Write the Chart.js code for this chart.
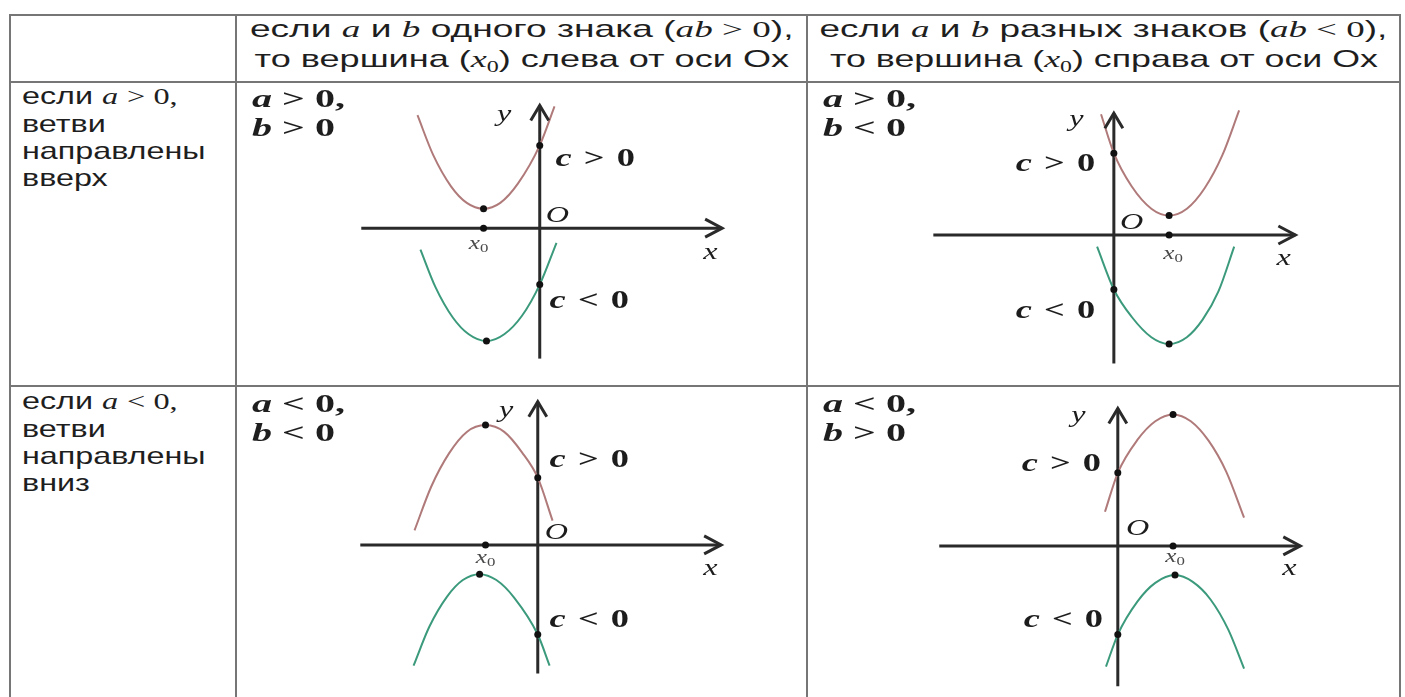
<!DOCTYPE html>
<html>
<head>
<meta charset="utf-8">
<script src="https://cdn.jsdelivr.net/npm/chart.js@4.4.1/dist/chart.umd.min.js"></script>
<style>
  body { margin: 0; background: #fff; width: 1405px; height: 697px; overflow: hidden; position: relative;
         font-family: "Liberation Sans", Arial, sans-serif; color: #1e1e1e; }
  .ln { position: absolute; background: #767676; }
  canvas { position: absolute; }
  .hdr { position: absolute; text-align: center; font-size: 24px; line-height: 29px; white-space: nowrap; }
  .hdr span.fit { display: inline-block; transform-origin: 50% 50%; }
  .side { position: absolute; left: 22px; font-size: 24px; line-height: 27px; white-space: nowrap;
          width: max-content; transform-origin: 0 50%; }
  .cond { position: absolute; font-family: "Liberation Serif", serif; font-weight: bold; font-size: 25px;
          line-height: 29px; white-space: nowrap; width: max-content; transform-origin: 0 50%; }
  .m { font-family: "Liberation Serif", serif; }
  .i { font-style: italic; }
  .sub { font-size: 16px; position: relative; top: 5px; }
</style>
</head>
<body>

<!-- table rules -->
<div class="ln" style="left:9px;top:14px;width:1392px;height:2px"></div>
<div class="ln" style="left:9px;top:81px;width:1392px;height:2px"></div>
<div class="ln" style="left:9px;top:385px;width:1392px;height:2px"></div>
<div class="ln" style="left:9px;top:14px;width:2px;height:683px"></div>
<div class="ln" style="left:235px;top:14px;width:2px;height:683px"></div>
<div class="ln" style="left:806px;top:14px;width:2px;height:683px"></div>
<div class="ln" style="left:1399px;top:14px;width:2px;height:683px"></div>

<canvas id="tl" width="569" height="302" style="left:237px;top:83px"></canvas>
<canvas id="tr" width="591" height="302" style="left:808px;top:83px"></canvas>
<canvas id="bl" width="569" height="310" style="left:237px;top:387px"></canvas>
<canvas id="br" width="591" height="310" style="left:808px;top:387px"></canvas>

<div class="hdr" style="left:237px;width:569px;top:14px">
  <div><span class="fit" data-w="543">если <span class="m i">a</span> и <span class="m i">b</span> одного знака (<span class="m"><i>ab</i> &gt; 0</span>),</span></div>
  <div><span class="fit" data-w="535">то вершина (<span class="m i">x</span><span class="m sub">0</span>) слева от оси Ox</span></div>
</div>
<div class="hdr" style="left:808px;width:591px;top:14px">
  <div><span class="fit" data-w="568">если <span class="m i">a</span> и <span class="m i">b</span> разных знаков (<span class="m"><i>ab</i> &lt; 0</span>),</span></div>
  <div><span class="fit" data-w="548">то вершина (<span class="m i">x</span><span class="m sub">0</span>) справа от оси Ox</span></div>
</div>

<div class="side" data-w="183" style="top:82px">если <span class="m i">a</span> <span class="m">&gt; 0,</span><br>ветви<br>направлены<br>вверх</div>
<div class="side" data-w="183" style="top:387px">если <span class="m i">a</span> <span class="m">&lt; 0,</span><br>ветви<br>направлены<br>вниз</div>

<div class="cond" data-w="93" style="left:252px;top:84px"><i>a</i> &gt; 0,<br><i>b</i> &gt; 0</div>
<div class="cond" data-w="93" style="left:823px;top:84px"><i>a</i> &gt; 0,<br><i>b</i> &lt; 0</div>
<div class="cond" data-w="93" style="left:252px;top:389px"><i>a</i> &lt; 0,<br><i>b</i> &lt; 0</div>
<div class="cond" data-w="93" style="left:823px;top:389px"><i>a</i> &lt; 0,<br><i>b</i> &gt; 0</div>

<script>
// curves, [x, y] in axis units
const tlRed   = [[-6.2, 5.8], [-5.4, 3.75], [-4.5, 2.15], [-3.7, 1.3], [-2.85, 1.0], [-2.0, 1.3], [-1.1, 2.3], [0, 4.25], [0.75, 6.25]];
const tlGreen = [[-6.05, -1.1], [-5.3, -3.0], [-4.4, -4.6], [-3.6, -5.45], [-2.7, -5.8], [-1.8, -5.45], [-0.9, -4.5], [0, -2.9], [0.85, -0.75]];
const trRed   = [[-0.65, 6.2], [0, 4.2], [0.9, 2.5], [1.9, 1.35], [2.8, 1.0], [3.7, 1.35], [4.6, 2.4], [5.5, 4.1], [6.35, 6.4]];
const trGreen = [[-0.85, -0.6], [0, -2.8], [0.9, -4.2], [1.9, -5.25], [2.8, -5.6], [3.7, -5.25], [4.5, -4.35], [5.3, -2.9], [6.1, -0.6]];
const blRed   = [[-6.25, 0.75], [-5.4, 3.0], [-4.5, 4.7], [-3.6, 5.8], [-2.65, 6.15], [-1.7, 5.8], [-0.8, 4.75], [0, 3.45], [0.75, 1.25]];
const blGreen = [[-6.3, -6.2], [-5.5, -4.2], [-4.6, -2.65], [-3.8, -1.8], [-2.95, -1.5], [-2.1, -1.8], [-1.2, -2.7], [0, -4.6], [0.6, -6.2]];
const brRed   = [[-0.65, 1.75], [0, 3.75], [1.0, 5.45], [1.9, 6.4], [2.8, 6.75], [3.7, 6.4], [4.6, 5.4], [5.5, 3.8], [6.4, 1.45]];
const brGreen = [[-0.6, -6.2], [0, -4.55], [1.0, -2.85], [1.9, -1.9], [2.9, -1.5], [3.8, -1.85], [4.7, -2.75], [5.6, -4.3], [6.4, -6.3]];

// axis extents [from, to]
const tlXAxis = [-9.05, 9.25], tlYAxis = [-6.7, 6.3];
const trXAxis = [-9.15, 9.2],  trYAxis = [-6.6, 6.25];
const blXAxis = [-9.0, 9.3],   blYAxis = [-6.6, 7.35];
const brXAxis = [-9.05, 9.25], brYAxis = [-7.2, 7.05];

const U = 20;      // px per unit
const SX = 1.4;    // the lettering in the picture is stretched sideways
const RED = '#b07a7a', GREEN = '#3c9a7c', INK = '#1c1c1c';
const SERIF = '"Liberation Serif", serif';

// stretch html text to the widths seen in the picture
document.querySelectorAll('[data-w]').forEach(el => {
  el.style.transform = 'scaleX(' + (el.dataset.w / el.offsetWidth) + ')';
});

function cLabel(sign) {
  return [['c', 'italic bold 26px ' + SERIF], [' \u200a' + sign + '\u200a 0', 'bold 26px ' + SERIF]];
}
const letter = t => [[t, 'italic 23px ' + SERIF]];
const x0Label = [['x', 'italic 18px ' + SERIF], ['0', '12px ' + SERIF, 4]];

function drawRich(ctx, parts, x, y, align, color) {
  let w = 0;
  parts.forEach(p => { ctx.font = p[1]; w += ctx.measureText(p[0]).width; });
  w *= SX;
  const left = align === 'right' ? x - w : align === 'center' ? x - w / 2 : x;
  ctx.save();
  ctx.fillStyle = color;
  ctx.textBaseline = 'middle';
  ctx.translate(left, y);
  ctx.scale(SX, 1);
  let cx = 0;
  parts.forEach(p => { ctx.font = p[1]; ctx.fillText(p[0], cx, p[2] || 0); cx += ctx.measureText(p[0]).width; });
  ctx.restore();
}

const decor = {
  id: 'decor',
  afterDatasetsDraw(chart, args, opts) {
    const { ctx, scales: { x, y } } = chart;
    const X = v => x.getPixelForValue(v), Y = v => y.getPixelForValue(v);
    ctx.save();
    ctx.strokeStyle = '#2a2a2a';
    ctx.lineWidth = 3;
    let tx = X(opts.xAxis[1]), ty = Y(0);
    ctx.beginPath();
    ctx.moveTo(tx - 17, ty - 9); ctx.lineTo(tx, ty); ctx.lineTo(tx - 17, ty + 9);
    ctx.stroke();
    tx = X(0); ty = Y(opts.yAxis[1]);
    ctx.beginPath();
    ctx.moveTo(tx - 9, ty + 15); ctx.lineTo(tx, ty); ctx.lineTo(tx + 9, ty + 15);
    ctx.stroke();
    ctx.restore();
    opts.labels.forEach(l => drawRich(ctx, l.parts, X(l.at[0]), Y(l.at[1]), l.align, l.color || INK));
  }
};

function pts(arr) { return arr.map(p => ({ x: p[0], y: p[1] })); }

function curve(arr, color, up) {
  const ys = arr.map(p => p[1]);
  const ext = up ? Math.min(...ys) : Math.max(...ys);
  return {
    data: pts(arr),
    borderColor: color,
    borderWidth: 2,
    cubicInterpolationMode: 'monotone',
    pointRadius: c => (c.raw.x === 0 || c.raw.y === ext) ? 3.5 : 0,
    pointBackgroundColor: '#111',
    pointBorderWidth: 0,
    pointHoverRadius: 0
  };
}

function axis(a, horizontal) {
  return {
    data: horizontal ? [{ x: a[0], y: 0 }, { x: a[1], y: 0 }] : [{ x: 0, y: a[0] }, { x: 0, y: a[1] }],
    borderColor: '#2a2a2a',
    borderWidth: 3,
    pointRadius: 0
  };
}

function panel(id, cfg) {
  const canvas = document.getElementById(id);
  const w = canvas.width, h = canvas.height;
  const [ox, oy] = cfg.origin;
  const ys = cfg.red.map(p => p[1]);
  const vx = cfg.red[ys.indexOf(cfg.up ? Math.min(...ys) : Math.max(...ys))][0];
  new Chart(canvas, {
    type: 'line',
    data: {
      datasets: [
        { data: [{ x: vx, y: 0 }], showLine: false, pointRadius: 3.5, pointBackgroundColor: '#111', pointBorderWidth: 0 },
        curve(cfg.red, RED, cfg.up),
        curve(cfg.green, GREEN, cfg.up),
        axis(cfg.xAxis, true),
        axis(cfg.yAxis, false)
      ]
    },
    options: {
      responsive: false,
      animation: false,
      events: [],
      layout: { padding: 0 },
      plugins: {
        legend: { display: false },
        tooltip: { enabled: false },
        decor: { xAxis: cfg.xAxis, yAxis: cfg.yAxis, labels: cfg.labels }
      },
      scales: {
        x: { type: 'linear', display: false, min: -ox / U, max: (w - ox) / U },
        y: { type: 'linear', display: false, min: -(h - oy) / U, max: oy / U }
      }
    },
    plugins: [decor]
  });
}

panel('tl', {
  origin: [303, 145], up: true, red: tlRed, green: tlGreen, xAxis: tlXAxis, yAxis: tlYAxis,
  labels: [
    { parts: letter('y'), at: [-1.8, 5.8], align: 'center' },
    { parts: letter('O'), at: [0.9, 0.65], align: 'center' },
    { parts: letter('x'), at: [8.65, -1.25], align: 'center' },
    { parts: x0Label, at: [-3.1, -0.85], align: 'center', color: '#4a4a4a' },
    { parts: cLabel('>'), at: [0.8, 3.55], align: 'left' },
    { parts: cLabel('<'), at: [0.5, -3.75], align: 'left' }
  ]
});
panel('tr', {
  origin: [306, 152], up: true, red: trRed, green: trGreen, xAxis: trXAxis, yAxis: trYAxis,
  labels: [
    { parts: letter('y'), at: [-1.9, 5.9], align: 'center' },
    { parts: letter('O'), at: [0.9, 0.6], align: 'center' },
    { parts: letter('x'), at: [8.6, -1.25], align: 'center' },
    { parts: x0Label, at: [3.0, -1.0], align: 'center', color: '#4a4a4a' },
    { parts: cLabel('>'), at: [-0.95, 3.65], align: 'right' },
    { parts: cLabel('<'), at: [-0.95, -3.9], align: 'right' }
  ]
});
panel('bl', {
  origin: [301, 158], up: false, red: blRed, green: blGreen, xAxis: blXAxis, yAxis: blYAxis,
  labels: [
    { parts: letter('y'), at: [-1.6, 6.9], align: 'center' },
    { parts: letter('O'), at: [0.95, 0.6], align: 'center' },
    { parts: letter('x'), at: [8.75, -1.25], align: 'center' },
    { parts: x0Label, at: [-2.65, -0.7], align: 'center', color: '#4a4a4a' },
    { parts: cLabel('>'), at: [0.6, 4.35], align: 'left' },
    { parts: cLabel('<'), at: [0.6, -3.85], align: 'left' }
  ]
});
panel('br', {
  origin: [310, 159], up: false, red: brRed, green: brGreen, xAxis: brXAxis, yAxis: brYAxis,
  labels: [
    { parts: letter('y'), at: [-2.0, 6.65], align: 'center' },
    { parts: letter('O'), at: [1.0, 0.85], align: 'center' },
    { parts: letter('x'), at: [8.7, -1.2], align: 'center' },
    { parts: x0Label, at: [2.9, -0.6], align: 'center', color: '#4a4a4a' },
    { parts: cLabel('>'), at: [-0.85, 4.2], align: 'right' },
    { parts: cLabel('<'), at: [-0.75, -3.8], align: 'right' }
  ]
});
</script>
</body>
</html>
